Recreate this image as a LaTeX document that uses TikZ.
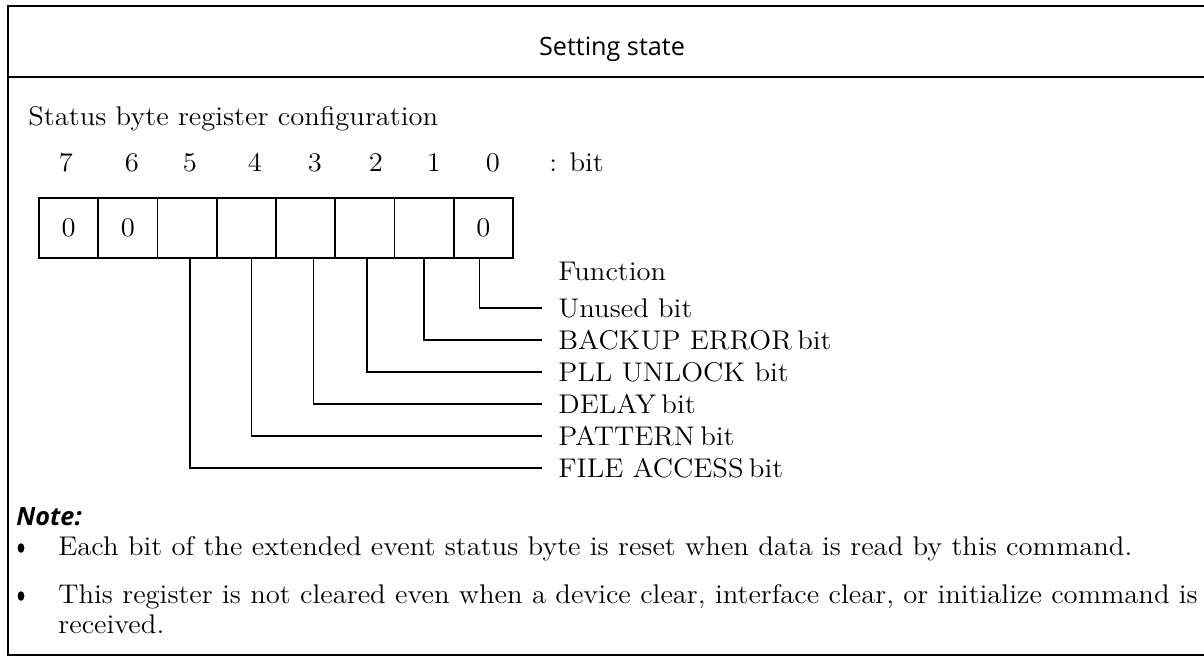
\documentclass[tikz,border=0pt]{standalone}
\usepackage{fontspec}
\setmainfont{Latin Modern Roman}[FakeStretch=1.06]
\newfontfamily\headfont{Open Sans}
\usetikzlibrary{shapes.geometric}
\begin{document}
\begin{tikzpicture}[x=0.5pt,y=-0.5pt,
  frame/.style={line width=1.4pt},
  body/.style={font=\fontsize{13.5}{16}\selectfont},
  cell/.style={draw,line width=0.9pt,minimum width=29.625pt,minimum height=30pt,inner sep=0pt,body},
  conn/.style={line width=0.75pt},
  txt/.style={anchor=base west,inner sep=0pt,body},
  bitno/.style={anchor=base,inner sep=0pt,body},
  lab/.style={anchor=base west,inner ysep=0pt,inner xsep=8pt,text height=9pt,text depth=0pt,body},
  bul/.style={ellipse,fill,inner sep=0pt,minimum width=3.4pt,minimum height=4.8pt}]
\useasboundingbox (0,0) rectangle (1204,659);
% frame
\draw[frame] (1204,6) -- (8,6) -- (8,655) -- (1204,655);
\draw[frame] (8,77) -- (1204,77);
% title
\node[anchor=base,inner sep=0pt,font=\headfont\fontsize{12.6}{15}\selectfont] (title) at (612,55) {Setting state};
\node[txt] (head) at (28,125) {Status byte register configuration};
% bit numbers
\node[bitno] (b7) at (66,171) {7};
\node[bitno] (b6) at (132,171) {6};
\node[bitno] (b5) at (190,171) {5};
\node[bitno] (b4) at (255,171) {4};
\node[bitno] (b3) at (315,171) {3};
\node[bitno] (b2) at (376,171) {2};
\node[bitno] (b1) at (434,171) {1};
\node[bitno] (b0) at (493,171) {0};
\node[txt] (bitlab) at (549,171) {: bit};
% cells
\node[cell] (c7) at (68.6,228) {0};
\node[cell] (c6) at (127.9,228) {0};
\node[cell] (c5) at (187.1,228) {};
\node[cell] (c4) at (246.4,228) {};
\node[cell] (c3) at (305.6,228) {};
\node[cell] (c2) at (364.9,228) {};
\node[cell] (c1) at (424.1,228) {};
\node[cell] (c0) at (483.4,228) {0};
% labels
\node[txt] (func) at (558,280) {Function};
\node[lab] (l0) at (542,317) {Unused bit};
\node[lab] (l1) at (542,349) {BACKUP ERROR\kern0.2em bit};
\node[lab] (l2) at (542,381) {PLL UNLOCK bit};
\node[lab] (l3) at (542,413) {DELAY\kern0.2em bit};
\node[lab] (l4) at (542,445) {PATTERN\kern0.2em bit};
\node[lab] (l5) at (542,477) {FILE ACCESS\kern0.2em bit};
% connectors
\draw[conn] ([xshift=-2pt]c0.south) |- (l0.west);
\draw[conn] (c1.south) |- (l1.west);
\draw[conn] ([xshift=1pt]c2.south) |- (l2.west);
\draw[conn] ([xshift=4pt]c3.south) |- (l3.west);
\draw[conn] ([xshift=2.5pt]c4.south) |- (l4.west);
\draw[conn] ([xshift=1.5pt]c5.south) |- (l5.west);
% note
\node[anchor=base west,inner sep=0pt,font=\headfont\bfseries\itshape\fontsize{12.6}{15}\selectfont] (note) at (16,525) {Note:};
\node[bul] (bu1) at (21,548) {};
\node[txt] (n1) at (58,555) {Each bit of the extended event status byte is reset when data is read by this command.};
\node[bul] (bu2) at (21,596) {};
\node[txt] (n2) at (58,603) {This register is not cleared even when a device clear, interface clear, or initialize command is};
\node[txt] (n3) at (58,633) {received.};
\end{tikzpicture}
\end{document}
